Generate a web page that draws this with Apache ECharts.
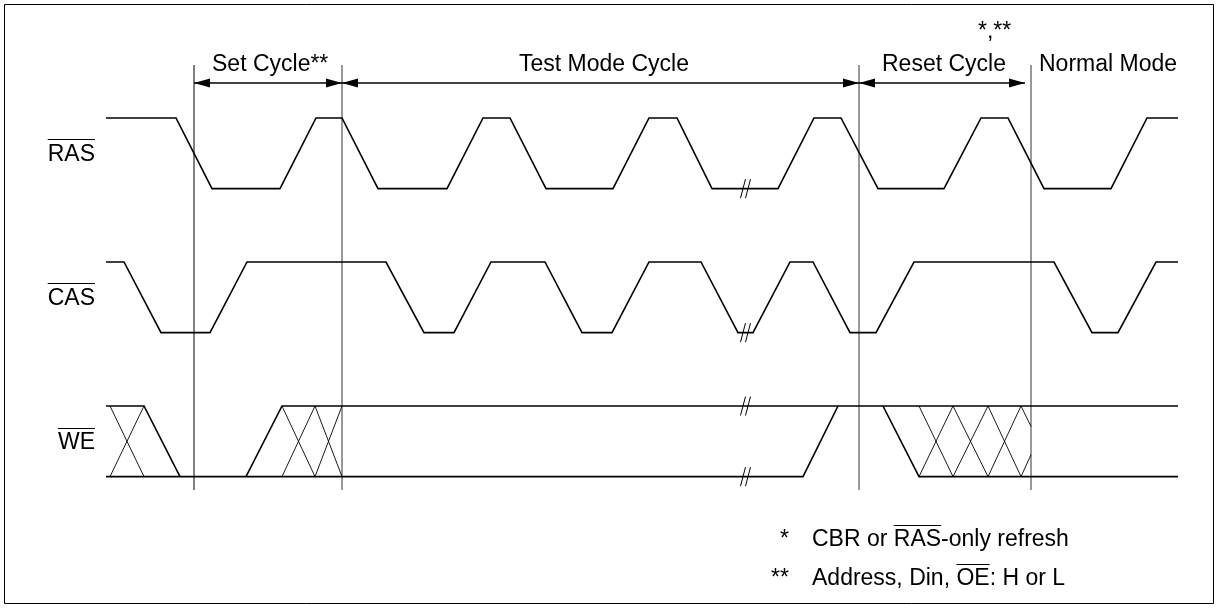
<!DOCTYPE html>
<html>
<head>
<meta charset="utf-8">
<title>Test Mode timing</title>
<script src="https://cdn.jsdelivr.net/npm/echarts@6/dist/echarts.min.js"></script>
<style>
  html, body { margin: 0; padding: 0; background: #fff; }
  #timing-pic { width: 1218px; height: 608px; }
</style>
</head>
<body>
<div id="timing-pic"></div>
<script>
  // 波形数据 [time, level]  level: 1 = high, 0 = low
  const rasWave = [[106, 1], [176, 1], [212, 0], [280, 0], [316, 1], [342, 1], [378, 0], [447, 0], [483, 1], [510, 1],
    [546, 0], [613, 0], [649, 1], [677, 1], [712, 0], [778, 0], [814, 1], [841, 1], [878, 0], [944, 0],
    [981, 1], [1008, 1], [1044, 0], [1111, 0], [1147, 1], [1178, 1]]
  const casWave = [[106, 1], [124, 1], [161, 0], [210, 0], [247, 1], [386, 1], [424, 0], [454, 0], [491, 1], [545, 1],
    [582, 0], [612, 0], [649, 1], [701, 1], [738, 0], [753, 0], [790, 1], [813, 1], [850, 0], [876, 0],
    [914, 1], [1054, 1], [1092, 0], [1118, 0], [1156, 1], [1178, 1]]
  const weWave = [
    [[106, 1], [144, 1], [180, 0]],
    [[106, 0], [803, 0], [838, 1]],
    [[246, 0], [282, 1], [1178, 1]],
    [[883, 1], [919, 0], [1178, 0]]
  ]
  // don't care 区域的交叉线
  const weDontCare = [
    [[110, 1], [144, 0]], [[144, 1], [110, 0]],
    [[282, 1], [315, 0]], [[282, 0], [315, 1]], [[315, 1], [342, 0]], [[315, 0], [342, 1]],
    [[919, 0], [953, 1]], [[919, 1], [953, 0]], [[953, 0], [988, 1]], [[953, 1], [988, 0]],
    [[988, 0], [1021, 1]], [[988, 1], [1021, 0]], [[1021, 0], [1031, 0.31]], [[1021, 1], [1031, 0.71]]
  ]
  // 省略号 //  [time, signal, level]
  const breaks = [[743, 'RAS', 0], [743, 'CAS', 0], [743, 'WE', 1], [743, 'WE', 0]]
  const cycleBounds = [194, 342, 859, 1031]
  const cycleArrows = [[194, 342], [342, 859], [859, 1025]]
  const cycleNames = ['Set Cycle**', 'Test Mode Cycle', 'Reset Cycle', 'Normal Mode', '*,**']
  const signalNames = ['RAS', 'CAS', 'WE']
  const noteMarks = ['*', '**']
  const notes = ['CBR or RAS-only refresh', 'Address, Din, OE: H or L']

  // 布局
  const laneTop = { RAS: 118, CAS: 262, WE: 406 }
  const SWING = 70.6
  const DIM_Y = 83
  const BOUND_TOP = 65
  const BOUND_BOTTOM = 490
  const FONT = '23px "Liberation Sans", Arial, Helvetica, sans-serif'
  const OVER_GAP = 15.5

  const labelItems = [
    { text: cycleNames[0], x: 212, y: 65, align: 'left' },
    { text: cycleNames[1], x: 604, y: 65, align: 'center' },
    { text: cycleNames[2], x: 882, y: 65, align: 'left' },
    { text: cycleNames[3], x: 1039, y: 65, align: 'left' },
    { text: cycleNames[4], x: 978, y: 32, align: 'left' },
    { text: signalNames[0], x: 95, y: 154.5, align: 'right', over: [0, 3] },
    { text: signalNames[1], x: 95, y: 298.5, align: 'right', over: [0, 3] },
    { text: signalNames[2], x: 95, y: 443, align: 'right', over: [0, 2] },
    { text: noteMarks[0], x: 789, y: 540, align: 'right' },
    { text: noteMarks[1], x: 789, y: 579, align: 'right' },
    { text: notes[0], x: 812, y: 540, align: 'left', over: [7, 10] },
    { text: notes[1], x: 812, y: 579, align: 'left', over: [14, 16] }
  ]

  const wavePaths = [
    { lane: 'RAS', pts: rasWave, w: 1.6 },
    { lane: 'CAS', pts: casWave, w: 1.6 }
  ].concat(weWave.map(p => ({ lane: 'WE', pts: p, w: 1.6 })))
    .concat(weDontCare.map(p => ({ lane: 'WE', pts: p, w: 0.9 })))

  const measure = document.createElement('canvas').getContext('2d')
  function textWidth (s) {
    measure.font = FONT
    return measure.measureText(s).width
  }
  function yOf (lane, level) {
    return laneTop[lane] + (1 - level) * SWING
  }
  function idx (arr) {
    return arr.map((a, i) => [i, 0])
  }

  function renderWave (params, api) {
    const w = wavePaths[params.dataIndex]
    return {
      type: 'polyline',
      shape: { points: w.pts.map(p => api.coord([p[0], yOf(w.lane, p[1])])) },
      style: { stroke: '#000', lineWidth: w.w, fill: null, lineJoin: 'miter' }
    }
  }

  function renderBreak (params, api) {
    const b = breaks[params.dataIndex]
    const c = api.coord([b[0], yOf(b[1], b[2])])
    const children = [0, 5].map(dx => ({
      type: 'line',
      shape: { x1: c[0] + dx - 2.5, y1: c[1] + 9.5, x2: c[0] + dx + 2.5, y2: c[1] - 9.5 },
      style: { stroke: '#000', lineWidth: 1 }
    }))
    return { type: 'group', children }
  }

  function renderBound (params, api) {
    const x = cycleBounds[params.dataIndex]
    const a = api.coord([x, BOUND_TOP])
    const b = api.coord([x, BOUND_BOTTOM])
    return {
      type: 'line',
      shape: { x1: a[0], y1: a[1], x2: b[0], y2: b[1] },
      style: { stroke: params.dataIndex === 0 ? '#000' : '#333', lineWidth: 1 }
    }
  }

  function renderDim (params, api) {
    const d = cycleArrows[params.dataIndex]
    const a = api.coord([d[0], DIM_Y])
    const b = api.coord([d[1], DIM_Y])
    const L = 16
    const H = 4.5
    return {
      type: 'group',
      children: [
        { type: 'line', shape: { x1: a[0], y1: a[1], x2: b[0], y2: b[1] }, style: { stroke: '#000', lineWidth: 1.3 } },
        { type: 'polygon', shape: { points: [[a[0], a[1]], [a[0] + L, a[1] - H], [a[0] + L, a[1] + H]] }, style: { fill: '#000' } },
        { type: 'polygon', shape: { points: [[b[0], b[1]], [b[0] - L, b[1] - H], [b[0] - L, b[1] + H]] }, style: { fill: '#000' } }
      ]
    }
  }

  function renderLabel (params, api) {
    const it = labelItems[params.dataIndex]
    const p = api.coord([it.x, it.y])
    const children = [{
      type: 'text',
      x: p[0],
      y: p[1],
      style: {
        text: it.text, font: FONT, fill: '#000',
        align: it.align, verticalAlign: 'middle',
        textAlign: it.align, textVerticalAlign: 'middle'
      }
    }]
    if (it.over) {
      const full = textWidth(it.text)
      const left = it.align === 'left' ? p[0] : (it.align === 'right' ? p[0] - full : p[0] - full / 2)
      const x1 = left + textWidth(it.text.slice(0, it.over[0]))
      const x2 = left + textWidth(it.text.slice(0, it.over[1]))
      const oy = Math.round(p[1] - OVER_GAP) + 0.5
      children.push({ type: 'line', shape: { x1, y1: oy, x2, y2: oy }, style: { stroke: '#000', lineWidth: 1 } })
    }
    return { type: 'group', children }
  }

  const chart = echarts.init(document.getElementById('timing-pic'))
  const option = {
    animation: false,
    backgroundColor: '#fff',
    grid: { left: 0, right: 0, top: 0, bottom: 0 },
    xAxis: { type: 'value', min: 0, max: 1218, show: false },
    yAxis: { type: 'value', min: 0, max: 608, inverse: true, show: false },
    graphic: [{
      type: 'rect',
      shape: { x: 4.5, y: 4.5, width: 1209, height: 599 },
      style: { fill: null, stroke: '#000', lineWidth: 1 },
      silent: true
    }],
    series: [
      { type: 'custom', silent: true, data: idx(cycleBounds), renderItem: renderBound },
      { type: 'custom', silent: true, data: idx(cycleArrows), renderItem: renderDim },
      { type: 'custom', silent: true, data: idx(wavePaths), renderItem: renderWave },
      { type: 'custom', silent: true, data: idx(breaks), renderItem: renderBreak },
      { type: 'custom', silent: true, data: idx(labelItems), renderItem: renderLabel }
    ]
  }
  chart.setOption(option)
  window.addEventListener('resize', chart.resize)
</script>
</body>
</html>
